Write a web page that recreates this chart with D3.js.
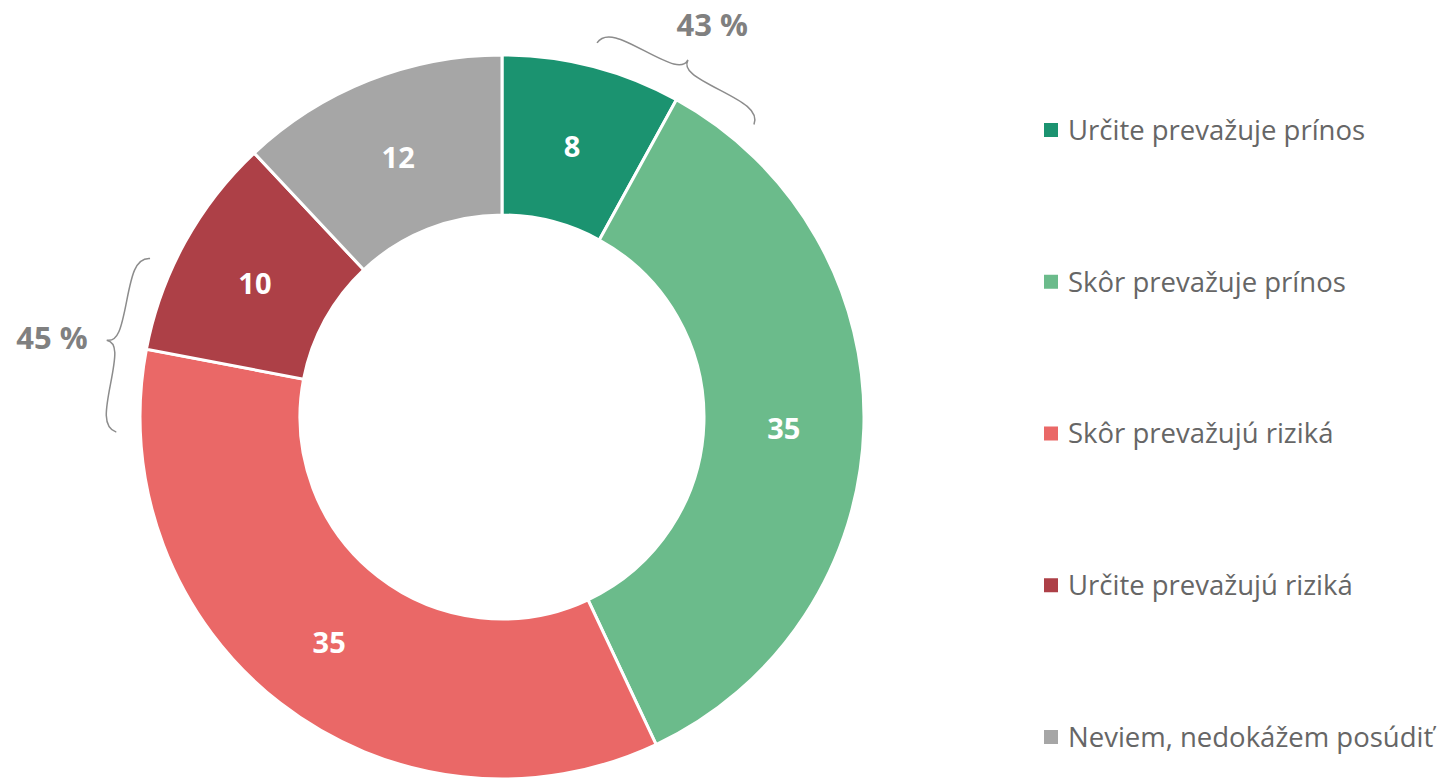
<!DOCTYPE html>
<html>
<head>
<meta charset="utf-8">
<script src="https://cdn.jsdelivr.net/npm/d3@7"></script>
<style>
  body { margin: 0; background: #fff; }
  svg { display: block; }
</style>
</head>
<body>
<div id="chart"></div>
<script>
/* Donut chart: benefit vs risk opinion */

const categories = ['Určite prevažuje prínos', 'Skôr prevažuje prínos', 'Skôr prevažujú riziká', 'Určite prevažujú riziká', 'Neviem, nedokážem posúdiť'];
const values = [8, 35, 35, 10, 12];
const colors = ['#1b9370', '#6bbb8b', '#ea6867', '#ad4047', '#a6a6a6'];
// grouped totals shown with braces
const groupLabels = ['43 %', '45 %'];
const braceAngles = [27.5, -79]; // degrees clockwise from top, where each brace sits

const width = 1445, height = 778;
const cx = 502, cy = 417;
const outerR = 362, innerR = 202;

const svg = d3.select('#chart').append('svg')
  .attr('width', width).attr('height', height);

const g = svg.append('g').attr('transform', `translate(${cx},${cy})`);

const pie = d3.pie().sort(null).value(d => d);
const arcs = pie(values);
const arc = d3.arc().innerRadius(innerR).outerRadius(outerR);

g.selectAll('.slice').data(arcs).enter().append('path')
  .attr('class', 'slice')
  .attr('d', arc)
  .attr('fill', (d, i) => colors[i])
  .attr('stroke', '#fff')
  .attr('stroke-width', 3);

g.selectAll('.value').data(arcs).enter().append('text')
  .attr('transform', d => `translate(${arc.centroid(d)})`)
  .attr('text-anchor', 'middle')
  .attr('dy', '0.45em')
  .style('font-family', 'Open Sans, sans-serif')
  .style('font-weight', 700)
  .style('font-size', '29px')
  .style('fill', '#fff')
  .text(d => d.value);

// Curly brace along a chord, tip pointing outward
function bracePath(L, d) {
  const q = d * 0.55;
  return `M0,0 C${L * 0.01},${-q} ${L * 0.12},${-q} ${L * 0.26},${-q}` +
    ` C${L * 0.42},${-q} ${L * 0.5},${-q * 1.05} ${L * 0.5},${-d}` +
    ` C${L * 0.5},${-q * 1.05} ${L * 0.58},${-q} ${L * 0.74},${-q}` +
    ` C${L * 0.88},${-q} ${L * 0.99},${-q} ${L},0`;
}

const braceR = 386;
const half = 13.25 * Math.PI / 180;
const polar = (r, a) => [r * Math.sin(a), -r * Math.cos(a)];
groupLabels.forEach((label, i) => {
  const mid = braceAngles[i] * Math.PI / 180;
  const p1 = polar(braceR, mid - half);
  const p2 = polar(braceR, mid + half);
  const L = Math.hypot(p2[0] - p1[0], p2[1] - p1[1]);
  const rot = Math.atan2(p2[1] - p1[1], p2[0] - p1[0]) * 180 / Math.PI;
  g.append('path')
    .attr('d', bracePath(L, 27))
    .attr('transform', `translate(${p1}) rotate(${rot})`)
    .attr('fill', 'none')
    .attr('stroke', '#8c8c8c')
    .attr('stroke-width', 1.5);
  const lp = polar(i === 0 ? 445 : 457, mid + (i === 0 ? 0.012 : -0.018));
  g.append('text')
    .attr('x', lp[0])
    .attr('y', lp[1])
    .attr('text-anchor', 'middle')
    .attr('dy', '0.36em')
    .style('font-family', 'Open Sans, sans-serif')
    .style('font-weight', 700)
    .style('font-size', '31px')
    .style('fill', '#808080')
    .text(label);
});

// Legend
const legendY = d3.scalePoint().domain(categories).range([130, 737]);
const legend = svg.selectAll('.legend').data(categories).enter().append('g')
  .attr('class', 'legend')
  .attr('transform', d => `translate(1044,${legendY(d)})`);

legend.append('rect')
  .attr('x', 0).attr('y', -7)
  .attr('width', 14).attr('height', 14)
  .attr('fill', (d, i) => colors[i]);

legend.append('text')
  .attr('x', 24)
  .attr('dy', '0.36em')
  .style('font-family', 'Open Sans, sans-serif')
  .style('font-size', '27.5px')
  .style('fill', '#666')
  .text(d => d);
</script>
</body>
</html>
